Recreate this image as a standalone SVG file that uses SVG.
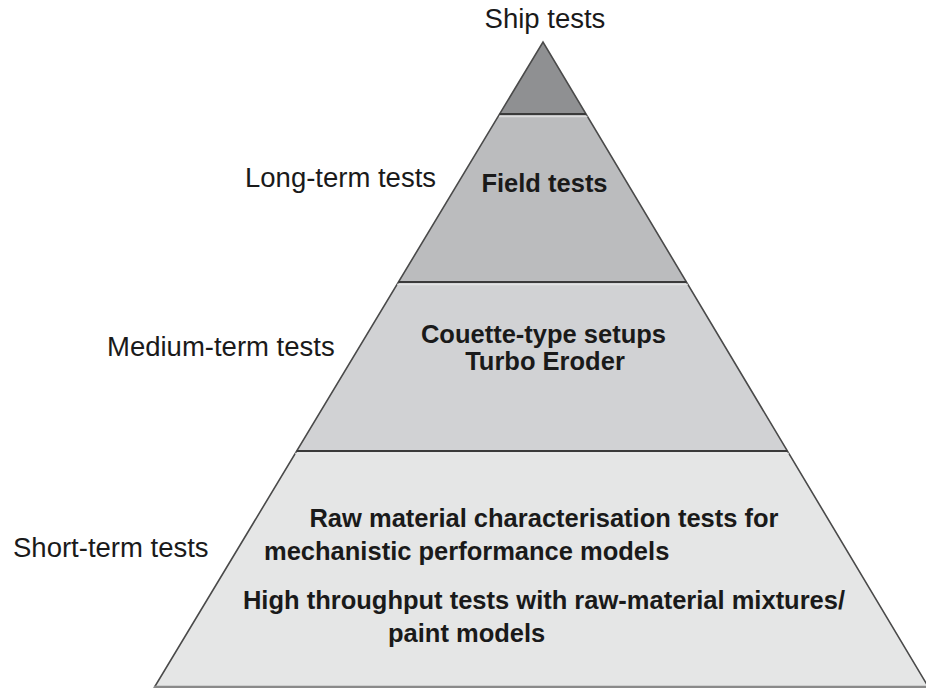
<svg xmlns="http://www.w3.org/2000/svg" width="926" height="688" viewBox="0 0 926 688">
<style>
.lbl{font-family:"Liberation Sans",Arial,sans-serif;font-size:27.5px;fill:#1a1a1a}
.in{font-family:"Liberation Sans",Arial,sans-serif;font-size:25.5px;font-weight:bold;fill:#1a1a1a}
.div{stroke:#3a3a3a;stroke-width:2.2}
.hl{stroke:#ececec;stroke-width:1.5;opacity:0.7}
.side{fill:none;stroke:#4a4a4a;stroke-width:1.6}
</style>
<rect width="926" height="688" fill="#ffffff"/>
<g id="tier-ship">
<polygon points="543,42 586,114 499.6,114" fill="#8f9092"/>
</g>
<g id="tier-long">
<polygon points="499.6,114 586,114 686.4,282 398.5,282" fill="#bbbcbe"/>
<text class="in" x="544.5" y="192" text-anchor="middle">Field tests</text>
</g>
<g id="tier-medium">
<polygon points="398.5,282 686.4,282 787.4,451 296.7,451" fill="#d1d2d4"/>
<text class="in" x="543.5" y="343" text-anchor="middle">Couette-type setups</text>
<text class="in" x="545" y="370" text-anchor="middle">Turbo Eroder</text>
</g>
<g id="tier-short">
<polygon points="296.7,451 787.4,451 929,688 154,688" fill="#e5e6e6"/>
<text class="in" x="544" y="527" text-anchor="middle">Raw material characterisation tests for</text>
<text class="in" x="264" y="560">mechanistic performance models</text>
<text class="in" x="544" y="609" text-anchor="middle">High throughput tests with raw-material mixtures/</text>
<text class="in" x="388" y="642">paint models</text>
</g>
<g id="outline">
<polyline class="side" points="154,688 543,42 929,688"/>
<line class="div" x1="499.6" y1="114" x2="586" y2="114"/>
<line class="hl" x1="499" y1="116.5" x2="587.5" y2="116.5"/>
<line class="div" x1="398.5" y1="282" x2="686.4" y2="282"/>
<line class="hl" x1="397" y1="284.5" x2="688" y2="284.5"/>
<line class="div" x1="296.7" y1="451" x2="787.4" y2="451"/>
<line class="hl" x1="295" y1="453.5" x2="789" y2="453.5"/>
<line x1="154" y1="687" x2="926" y2="687" stroke="#8a8a8a" stroke-width="2.5"/>
</g>
<g id="labels">
<text class="lbl" x="545" y="28" text-anchor="middle">Ship tests</text>
<text class="lbl" x="245" y="187">Long-term tests</text>
<text class="lbl" x="107" y="356">Medium-term tests</text>
<text class="lbl" x="13" y="557">Short-term tests</text>
</g>
</svg>
